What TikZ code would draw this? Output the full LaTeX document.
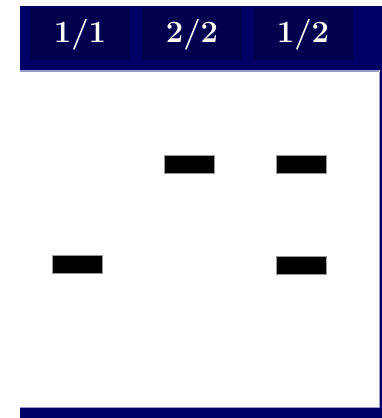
\documentclass[tikz,border=0pt]{standalone}
\usepackage{tikz}
\definecolor{GelNavy}{HTML}{000066}
\definecolor{GelCell}{HTML}{00004F}
\definecolor{GelEdge}{HTML}{9A9AC8}
\definecolor{GelBand}{HTML}{000000}
\definecolor{GelRim}{HTML}{9A9A9A}

\begin{document}
\begin{tikzpicture}[x=1pt,y=-1pt,
    lanelabel/.style={text=white,font=\fontsize{31}{32}\selectfont\bfseries,inner sep=0pt},
    bandbox/.style={fill=GelBand,draw=GelRim,line width=0.8pt,minimum width=50pt,minimum height=18pt,inner sep=0pt}]
      \useasboundingbox[fill=white] (0,0) rectangle (382,418);
      % frame of the gel
      \fill[GelNavy] (20,6) rectangle (382,70);
      \fill[GelEdge] (20,70) rectangle (379,72);
      \fill[GelNavy] (380,70) rectangle (382,418);
      \fill[GelEdge] (378.6,72) rectangle (380,407);
      \fill[GelEdge] (20,406.6) rectangle (380,408);
      \fill[GelNavy] (20,408) rectangle (382,418);
      % lane headers
      \fill[GelCell] (30,8) rectangle (130,60);
      \fill[GelCell] (142,8) rectangle (242,60);
      \fill[GelCell] (253,8) rectangle (353,60);
      \node[lanelabel] (lane1) at (80,35) {1/1};
      \node[lanelabel] (lane2) at (192,35) {2/2};
      \node[lanelabel] (lane3) at (303,35) {1/2};
      % bands
      \node[bandbox] (b1) at (77,264) {};
      \node[bandbox] (b2) at (189,164) {};
      \node[bandbox] (b3) at (301,164) {};
      \node[bandbox] (b4) at (301,265) {};
    \end{tikzpicture}
\end{document}
